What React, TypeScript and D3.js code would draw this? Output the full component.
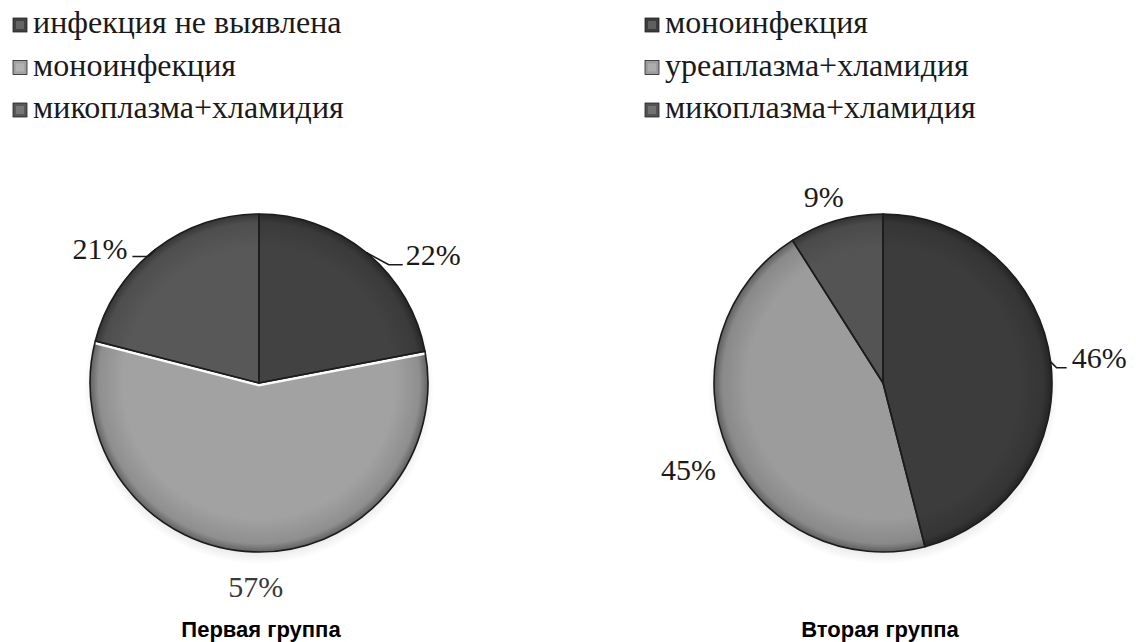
import React from "react";
import * as d3 from "d3";

const group1Labels = ["инфекция не выявлена", "моноинфекция", "микоплазма+хламидия"];
const group1Values = [22, 57, 21];
const group1Colors = ["#424242", "#a2a2a2", "#585858"];
const group1Title = "Первая группа";

const group2Labels = ["моноинфекция", "уреаплазма+хламидия", "микоплазма+хламидия"];
const group2Values = [46, 45, 9];
const group2Colors = ["#3c3c3c", "#9c9c9c", "#545454"];
const group2Title = "Вторая группа";

type LabelLayout = { dx: number; dy: number; anchor: string; leader?: [number, number][] };
const group1LabelLayout: LabelLayout[] = [
  { dx: 39, dy: 12, anchor: "start", leader: [[0, 0], [22, 12], [36, 12]] },
  { dx: 2, dy: 45, anchor: "middle" },
  { dx: -28, dy: 10, anchor: "end", leader: [[0, 0], [-7, 7], [-23, 7]] },
];
const group2LabelLayout: LabelLayout[] = [
  { dx: 21, dy: 6, anchor: "start", leader: [[0, 0], [6, 6], [16, 6]] },
  { dx: -12, dy: 30, anchor: "end" },
  { dx: -12, dy: -14, anchor: "middle" },
];

const W = 1136;
const H = 642;
const R = 169;
const SERIF = "Liberation Serif";
const SANS = "Liberation Sans";

function Pie({
  id, cx, cy, values, colors, layout, bevel,
}: {
  id: string; cx: number; cy: number; values: number[]; colors: string[]; layout: LabelLayout[]; bevel: boolean;
}) {
  const pie = d3.pie<number>().sort(null).value((d) => d).startAngle(0).endAngle(2 * Math.PI);
  const arcs = pie(values);
  const arc = d3.arc<d3.PieArcDatum<number>>().innerRadius(0).outerRadius(R);
  const pt = (a: number, r: number): [number, number] => [r * Math.sin(a), -r * Math.cos(a)];
  return (
    <g transform={`translate(${cx},${cy})`}>
      <defs>
        <radialGradient id={`${id}-rim`} cx="0" cy="0" r={R} gradientUnits="userSpaceOnUse">
          <stop offset="0.8" stopColor="#000" stopOpacity="0" />
          <stop offset="0.95" stopColor="#000" stopOpacity="0.12" />
          <stop offset="1" stopColor="#000" stopOpacity="0.4" />
        </radialGradient>
        <radialGradient id={`${id}-shadow`} cx="0.5" cy="0.5" r="0.5">
          <stop offset="0.85" stopColor="#000" stopOpacity="0.18" />
          <stop offset="1" stopColor="#000" stopOpacity="0" />
        </radialGradient>
        {arcs.map((a, i) => (
          <clipPath id={`${id}-clip-${i}`} key={i}>
            <path d={arc(a) || ""} />
          </clipPath>
        ))}
      </defs>
      <ellipse cx={0} cy={6} rx={R + 6} ry={R + 6} fill={`url(#${id}-shadow)`} />
      {arcs.map((a, i) => (
        <path key={i} d={arc(a) || ""} fill={colors[i]} />
      ))}
      <circle r={R} fill={`url(#${id}-rim)`} />
      {bevel &&
        arcs.map((a, i) => {
          if (i !== 1) return null;
          const p0 = pt(a.startAngle, R);
          const p1 = pt(a.endAngle, R);
          return (
            <path
              key={`b${i}`}
              d={`M${p0[0]},${p0[1]}L0,0L${p1[0]},${p1[1]}`}
              fill="none"
              stroke="#fafafa"
              strokeWidth={7}
              clipPath={`url(#${id}-clip-${i})`}
            />
          );
        })}
      {arcs.map((a, i) => (
        <path key={`s${i}`} d={arc(a) || ""} fill="none" stroke="#1c1c1c" strokeWidth={1.6} strokeLinejoin="round" />
      ))}
      {arcs.map((a, i) => {
        const mid = (a.startAngle + a.endAngle) / 2;
        const [ex, ey] = pt(mid, R);
        const L = layout[i];
        return (
          <g key={`l${i}`}>
            {L.leader && (
              <polyline
                points={L.leader.map(([x, y]) => `${ex + x},${ey + y}`).join(" ")}
                fill="none"
                stroke="#1a1a1a"
                strokeWidth={1.6}
              />
            )}
            <text
              x={ex + L.dx}
              y={ey + L.dy}
              textAnchor={L.anchor}
              fontFamily={SERIF}
              fontSize={30}
              fill={i === 1 && bevel ? "#3a3a3a" : "#1a1a1a"}
            >
              {`${a.data}%`}
            </text>
          </g>
        );
      })}
    </g>
  );
}

function Legend({ x, labels, colors }: { x: number; labels: string[]; colors: string[] }) {
  const rows = d3.range(labels.length);
  const y = d3.scalePoint<number>().domain(rows).range([33, 118]);
  return (
    <g>
      {rows.map((i) => (
        <g key={i}>
          <rect x={x} y={(y(i) as number) - 15} width={14} height={14} fill={colors[i]} stroke="#222" strokeWidth={0.8} />
          <rect x={x + 3} y={(y(i) as number) - 12} width={8} height={8} fill="#fff" opacity={0.18} />
          <text x={x + 20} y={y(i)} fontFamily={SERIF} fontSize={32} fill="#1a1a1a">
            {labels[i]}
          </text>
        </g>
      ))}
    </g>
  );
}

export default function App() {
  return (
    <svg width={W} height={H} style={{ position: "absolute", left: 0, top: 0, background: "#fff" }}>
      <rect width={W} height={H} fill="#fff" />
      <Legend x={13} labels={group1Labels} colors={group1Colors} />
      <Legend x={645} labels={group2Labels} colors={group2Colors} />
      <Pie id="p1" cx={259} cy={383} values={group1Values} colors={group1Colors} layout={group1LabelLayout} bevel={true} />
      <Pie id="p2" cx={883} cy={383} values={group2Values} colors={group2Colors} layout={group2LabelLayout} bevel={false} />
      <text x={261} y={637} textAnchor="middle" fontFamily={SANS} fontWeight="bold" fontSize={22} fill="#000">
        {group1Title}
      </text>
      <text x={880} y={637} textAnchor="middle" fontFamily={SANS} fontWeight="bold" fontSize={22} fill="#000">
        {group2Title}
      </text>
    </svg>
  );
}
